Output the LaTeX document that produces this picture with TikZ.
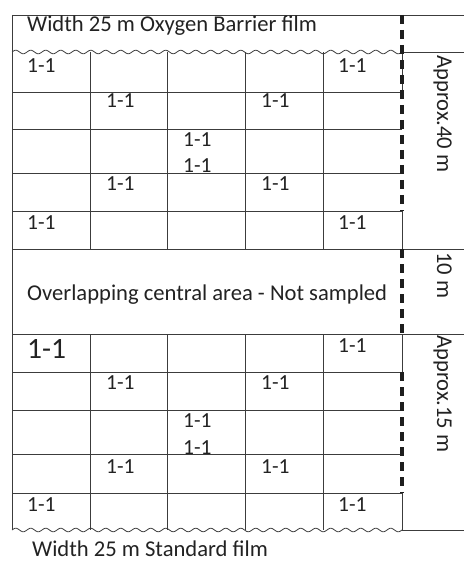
\documentclass[tikz,border=0pt]{standalone}
\usepackage{fontspec}
\setmainfont{Carlito}
\definecolor{linec}{HTML}{3C3C3C}
\definecolor{dashc}{HTML}{1E1E1E}
\definecolor{txtc}{HTML}{222222}
\begin{document}
\begin{tikzpicture}[x=1pt,y=-1pt,
  gridline/.style={draw=linec, line width=0.9pt},
  cutline/.style={draw=dashc, line width=3.2pt, dash pattern=on 9pt off 6pt},
  cell/.style={anchor=base west, inner sep=0pt, text=txtc, font=\fontsize{21.5}{21.5}\selectfont},
  bigcell/.style={cell, font=\fontsize{29.5}{29.5}\selectfont},
  head/.style={anchor=base west, inner sep=0pt, text=txtc, font=\fontsize{22.6}{22.6}\selectfont},
  side/.style={head, rotate=-90}]
\useasboundingbox (0,0) rectangle (464,561);

% ---------- outer frame and the right-hand column ----------
\draw[gridline] (12,15) -- (464,15);
\draw[gridline] (12,15) -- (12,530);
\draw[gridline] (402,52) -- (464,52);
\draw[gridline] (12,249) -- (464,249);
\draw[gridline] (12,334) -- (464,334);
\draw[gridline] (402,530) -- (464,530);

% torn film edges
\draw[gridline, line width=0.8pt] plot[domain=12:402, samples=260] (\x, {52 - 1.8*sin(24*(\x-12))});
\draw[gridline, line width=0.8pt] plot[domain=12:402, samples=260] (\x, {530 - 1.8*sin(24*(\x-12))});

% ---------- upper grid (oxygen barrier film) ----------
\foreach \y in {92,129,173,211} \draw[gridline] (12,\y) -- (402,\y);
\foreach \x in {90,167,245,323} \draw[gridline] (\x,52) -- (\x,249);
\draw[gridline] (402,52) -- (402,92);
\draw[gridline] (402,211) -- (402,249);

% ---------- lower grid (standard film) ----------
\foreach \y in {372,410,454,493} \draw[gridline] (12,\y) -- (402,\y);
\foreach \x in {90,167,245,323} \draw[gridline] (\x,334) -- (\x,530);
\draw[gridline] (402,334) -- (402,372);
\draw[gridline] (402,493) -- (402,530);

% ---------- thick dashed cut line ----------
\draw[cutline] (402,15) -- (402,211);
\draw[cutline] (402,249) -- (402,334);
\draw[cutline] (402,372) -- (402,493);

% ---------- headings ----------
\node[head] (top) at (27,32) {Width 25 m Oxygen Barrier film};
\node[head] (mid) at (27,300) {Overlapping central area - Not sampled};
\node[head] (bot) at (32,556) {Width 25 m Standard film};

% ---------- side dimensions ----------
\node[side] (d40) at (437,55) {Approx.40 m};
\node[side] (d10) at (437,252) {10 m};
\node[side] (d15) at (437,335) {Approx.15 m};

% ---------- sample labels, upper grid ----------
\node[cell] (u11) at (27,73) {1-1};
\node[cell] (u15) at (338,73) {1-1};
\node[cell] (u22) at (106,108) {1-1};
\node[cell] (u24) at (261,108) {1-1};
\node[cell] (u33a) at (183,147) {1-1};
\node[cell] (u33b) at (183,173) {1-1};
\node[cell] (u42) at (106,191) {1-1};
\node[cell] (u44) at (261,191) {1-1};
\node[cell] (u51) at (27,229) {1-1};
\node[cell] (u55) at (338,229) {1-1};

% ---------- sample labels, lower grid ----------
\node[bigcell] (l11) at (27,358) {1-1};
\node[cell] (l15) at (338,352) {1-1};
\node[cell] (l22) at (106,389) {1-1};
\node[cell] (l24) at (261,389) {1-1};
\node[cell] (l33a) at (183,427) {1-1};
\node[cell] (l33b) at (183,454) {1-1};
\node[cell] (l42) at (106,473) {1-1};
\node[cell] (l44) at (261,473) {1-1};
\node[cell] (l51) at (27,511) {1-1};
\node[cell] (l55) at (338,511) {1-1};
\end{tikzpicture}
\end{document}
